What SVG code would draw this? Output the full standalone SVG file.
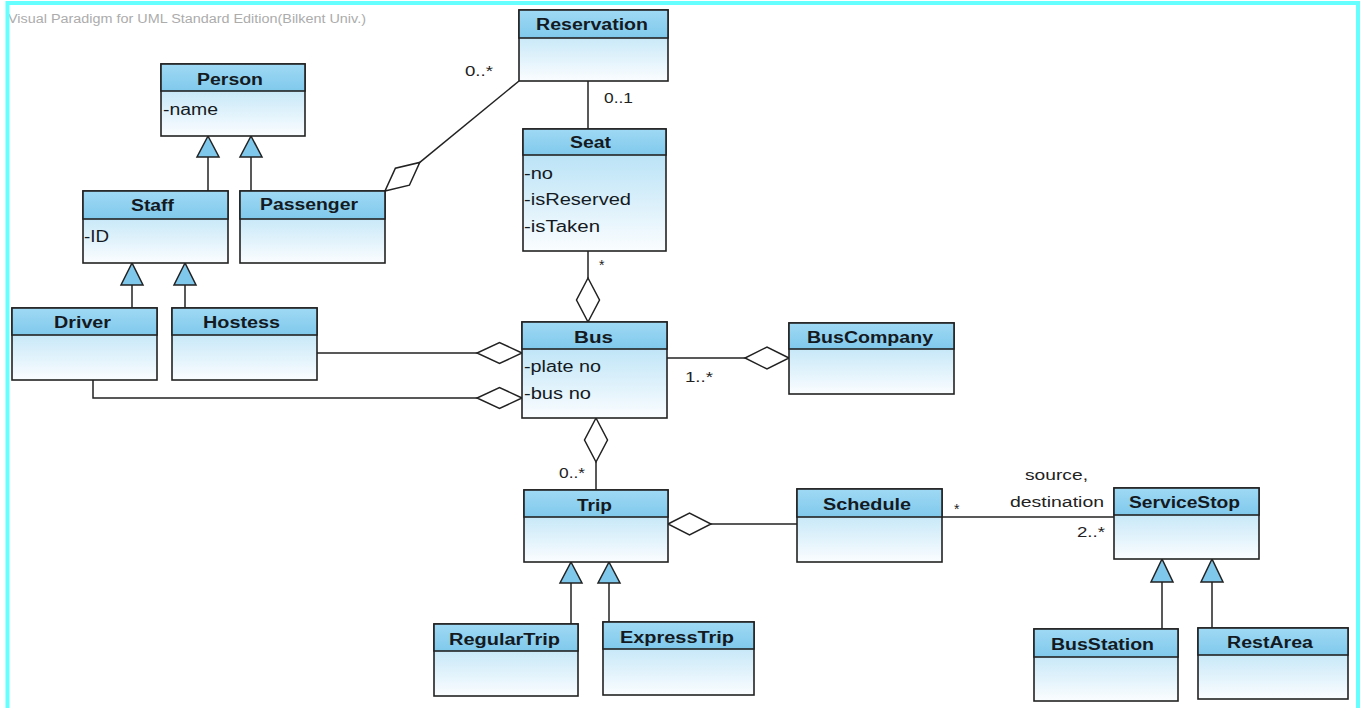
<svg xmlns="http://www.w3.org/2000/svg" width="1364" height="708" viewBox="0 0 1364 708">
<defs>
<linearGradient id="gh" x1="0" y1="0" x2="0" y2="1"><stop offset="0" stop-color="#9fd9f4"/><stop offset="1" stop-color="#80c9ec"/></linearGradient>
<linearGradient id="gb" x1="0" y1="0" x2="0" y2="1"><stop offset="0" stop-color="#a9dcf4"/><stop offset="1" stop-color="#fbfdff"/></linearGradient>
<style>
.hdr{fill:url(#gh);stroke:#222;stroke-width:1.6}
.body{fill:url(#gb);stroke:#222;stroke-width:1.6}
.name{font-family:"Liberation Sans",Arial,sans-serif;font-weight:bold;font-size:16px;fill:#141a22;text-anchor:middle}
.attr{font-family:"Liberation Sans",Arial,sans-serif;font-size:16px;fill:#141a22}
.mult{font-family:"Liberation Sans",Arial,sans-serif;font-size:14px;fill:#222}
.wm{font-family:"Liberation Sans",Arial,sans-serif;font-size:12.5px;fill:#acacac}
.ln{stroke:#222;stroke-width:1.5;fill:none}
.dia{fill:#fff;stroke:#222;stroke-width:1.5}
.tri{fill:#7fc8ec;stroke:#222;stroke-width:1.5}
</style>
</defs>
<rect width="1364" height="708" fill="#fff"/>
<text class="wm" x="8" y="23" textLength="358" lengthAdjust="spacingAndGlyphs">Visual Paradigm for UML Standard Edition(Bilkent Univ.)</text>

<g id="connectors">
<!-- Person generalizations -->
<line class="ln" x1="208" y1="157" x2="208" y2="191"/>
<polygon class="tri" points="208,136 197,157 219,157"/>
<line class="ln" x1="251" y1="157" x2="251" y2="191"/>
<polygon class="tri" points="251,136 240,157 262,157"/>
<!-- Staff generalizations -->
<line class="ln" x1="132" y1="285" x2="132" y2="308"/>
<polygon class="tri" points="132,263 121,285 143,285"/>
<line class="ln" x1="185" y1="285" x2="185" y2="308"/>
<polygon class="tri" points="185,263 174,285 196,285"/>
<!-- Passenger - Reservation -->
<line class="ln" x1="419.8" y1="162.4" x2="519" y2="81"/>
<polygon class="dia" points="385,191 409.4,185.2 419.8,162.4 395.4,168.2"/>
<!-- Reservation - Seat -->
<line class="ln" x1="588" y1="81" x2="588" y2="129"/>
<!-- Seat - Bus -->
<line class="ln" x1="588" y1="251" x2="588" y2="278"/>
<polygon class="dia" points="588,322 599.5,300 588,278 576.5,300"/>
<!-- Hostess - Bus -->
<line class="ln" x1="317" y1="353" x2="477" y2="353"/>
<polygon class="dia" points="522,353 499.5,342.5 477,353 499.5,363.5"/>
<!-- Driver - Bus -->
<polyline class="ln" points="93,380 93,398 477,398"/>
<polygon class="dia" points="522,398 499.5,387.5 477,398 499.5,408.5"/>
<!-- Bus - BusCompany -->
<line class="ln" x1="667" y1="358" x2="745" y2="358"/>
<polygon class="dia" points="789,358 767,347 745,358 767,369"/>
<!-- Bus - Trip -->
<polygon class="dia" points="596,418 607.5,440 596,462 584.5,440"/>
<line class="ln" x1="596" y1="462" x2="596" y2="490"/>
<!-- Trip - Schedule -->
<polygon class="dia" points="668,524 689.5,513 711,524 689.5,535"/>
<line class="ln" x1="711" y1="524" x2="797" y2="524"/>
<!-- Schedule - ServiceStop -->
<line class="ln" x1="942" y1="517" x2="1114" y2="517"/>
<!-- Trip generalizations -->
<line class="ln" x1="571" y1="583" x2="571" y2="624"/>
<polygon class="tri" points="571,562 560,583 582,583"/>
<line class="ln" x1="609" y1="583" x2="609" y2="622"/>
<polygon class="tri" points="609,562 598,583 620,583"/>
<!-- ServiceStop generalizations -->
<line class="ln" x1="1162" y1="582" x2="1162" y2="629"/>
<polygon class="tri" points="1162,559 1151,582 1173,582"/>
<line class="ln" x1="1212" y1="582" x2="1212" y2="628"/>
<polygon class="tri" points="1212,559 1201,582 1223,582"/>
<!-- multiplicities / roles -->
<text class="mult" x="465" y="76" textLength="28" lengthAdjust="spacingAndGlyphs">0..*</text>
<text class="mult" x="604" y="103" textLength="29" lengthAdjust="spacingAndGlyphs">0..1</text>
<text class="mult" x="599" y="270">*</text>
<text class="mult" x="685" y="382" textLength="28" lengthAdjust="spacingAndGlyphs">1..*</text>
<text class="mult" x="559" y="478" textLength="26" lengthAdjust="spacingAndGlyphs">0..*</text>
<text class="mult" x="954" y="514">*</text>
<text class="mult" x="1025" y="480" textLength="63" lengthAdjust="spacingAndGlyphs">source,</text>
<text class="mult" x="1010" y="507" textLength="94" lengthAdjust="spacingAndGlyphs">destination</text>
<text class="mult" x="1077" y="537" textLength="28" lengthAdjust="spacingAndGlyphs">2..*</text>
</g>

<g id="Person">
<rect class="body" x="161" y="64" width="144" height="72"/>
<rect class="hdr" x="161" y="64" width="144" height="27"/>
<text class="name" x="230" y="85" textLength="66" lengthAdjust="spacingAndGlyphs">Person</text>
<text class="attr" x="163" y="115" textLength="55" lengthAdjust="spacingAndGlyphs">-name</text>
</g>
<g id="Staff">
<rect class="body" x="83" y="191" width="145" height="72"/>
<rect class="hdr" x="83" y="191" width="145" height="28"/>
<text class="name" x="152.5" y="211" textLength="43" lengthAdjust="spacingAndGlyphs">Staff</text>
<text class="attr" x="84" y="242" textLength="25" lengthAdjust="spacingAndGlyphs">-ID</text>
</g>
<g id="Passenger">
<rect class="body" x="240" y="191" width="145" height="72"/>
<rect class="hdr" x="240" y="191" width="145" height="28"/>
<text class="name" x="309" y="210" textLength="98" lengthAdjust="spacingAndGlyphs">Passenger</text>
</g>
<g id="Reservation">
<rect class="body" x="519" y="10" width="149" height="71"/>
<rect class="hdr" x="519" y="10" width="149" height="28"/>
<text class="name" x="592" y="30" textLength="112" lengthAdjust="spacingAndGlyphs">Reservation</text>
</g>
<g id="Seat">
<rect class="body" x="523" y="129" width="143" height="122"/>
<rect class="hdr" x="523" y="129" width="143" height="26"/>
<text class="name" x="590.5" y="148" textLength="41" lengthAdjust="spacingAndGlyphs">Seat</text>
<text class="attr" x="524" y="179" textLength="29" lengthAdjust="spacingAndGlyphs">-no</text>
<text class="attr" x="524" y="205" textLength="107" lengthAdjust="spacingAndGlyphs">-isReserved</text>
<text class="attr" x="524" y="232" textLength="76" lengthAdjust="spacingAndGlyphs">-isTaken</text>
</g>
<g id="Driver">
<rect class="body" x="12" y="308" width="145" height="72"/>
<rect class="hdr" x="12" y="308" width="145" height="27"/>
<text class="name" x="82.5" y="328" textLength="57" lengthAdjust="spacingAndGlyphs">Driver</text>
</g>
<g id="Hostess">
<rect class="body" x="172" y="308" width="145" height="72"/>
<rect class="hdr" x="172" y="308" width="145" height="27"/>
<text class="name" x="241.5" y="328" textLength="77" lengthAdjust="spacingAndGlyphs">Hostess</text>
</g>
<g id="Bus">
<rect class="body" x="522" y="322" width="145" height="96"/>
<rect class="hdr" x="522" y="322" width="145" height="27"/>
<text class="name" x="593.5" y="343" textLength="39" lengthAdjust="spacingAndGlyphs">Bus</text>
<text class="attr" x="524" y="372" textLength="77" lengthAdjust="spacingAndGlyphs">-plate no</text>
<text class="attr" x="524" y="399" textLength="67" lengthAdjust="spacingAndGlyphs">-bus no</text>
</g>
<g id="BusCompany">
<rect class="body" x="789" y="323" width="165" height="71"/>
<rect class="hdr" x="789" y="323" width="165" height="26"/>
<text class="name" x="870" y="343" textLength="126" lengthAdjust="spacingAndGlyphs">BusCompany</text>
</g>
<g id="Trip">
<rect class="body" x="524" y="490" width="144" height="72"/>
<rect class="hdr" x="524" y="490" width="144" height="27"/>
<text class="name" x="594.5" y="511" textLength="35" lengthAdjust="spacingAndGlyphs">Trip</text>
</g>
<g id="Schedule">
<rect class="body" x="797" y="489" width="145" height="73"/>
<rect class="hdr" x="797" y="489" width="145" height="28"/>
<text class="name" x="867" y="510" textLength="88" lengthAdjust="spacingAndGlyphs">Schedule</text>
</g>
<g id="RegularTrip">
<rect class="body" x="434" y="624" width="144" height="72"/>
<rect class="hdr" x="434" y="624" width="144" height="27"/>
<text class="name" x="504.5" y="645" textLength="111" lengthAdjust="spacingAndGlyphs">RegularTrip</text>
</g>
<g id="ExpressTrip">
<rect class="body" x="603" y="622" width="151" height="73"/>
<rect class="hdr" x="603" y="622" width="151" height="27"/>
<text class="name" x="677" y="643" textLength="114" lengthAdjust="spacingAndGlyphs">ExpressTrip</text>
</g>
<g id="ServiceStop">
<rect class="body" x="1114" y="488" width="145" height="71"/>
<rect class="hdr" x="1114" y="488" width="145" height="27"/>
<text class="name" x="1184.5" y="508" textLength="111" lengthAdjust="spacingAndGlyphs">ServiceStop</text>
</g>
<g id="BusStation">
<rect class="body" x="1034" y="629" width="144" height="72"/>
<rect class="hdr" x="1034" y="629" width="144" height="28"/>
<text class="name" x="1102.5" y="650" textLength="103" lengthAdjust="spacingAndGlyphs">BusStation</text>
</g>
<g id="RestArea">
<rect class="body" x="1198" y="628" width="150" height="71"/>
<rect class="hdr" x="1198" y="628" width="150" height="27"/>
<text class="name" x="1270" y="648" textLength="86" lengthAdjust="spacingAndGlyphs">RestArea</text>
</g>

<rect x="7.5" y="3" width="1350.5" height="730" fill="none" stroke="#66ffff" stroke-width="4"/>
</svg>
